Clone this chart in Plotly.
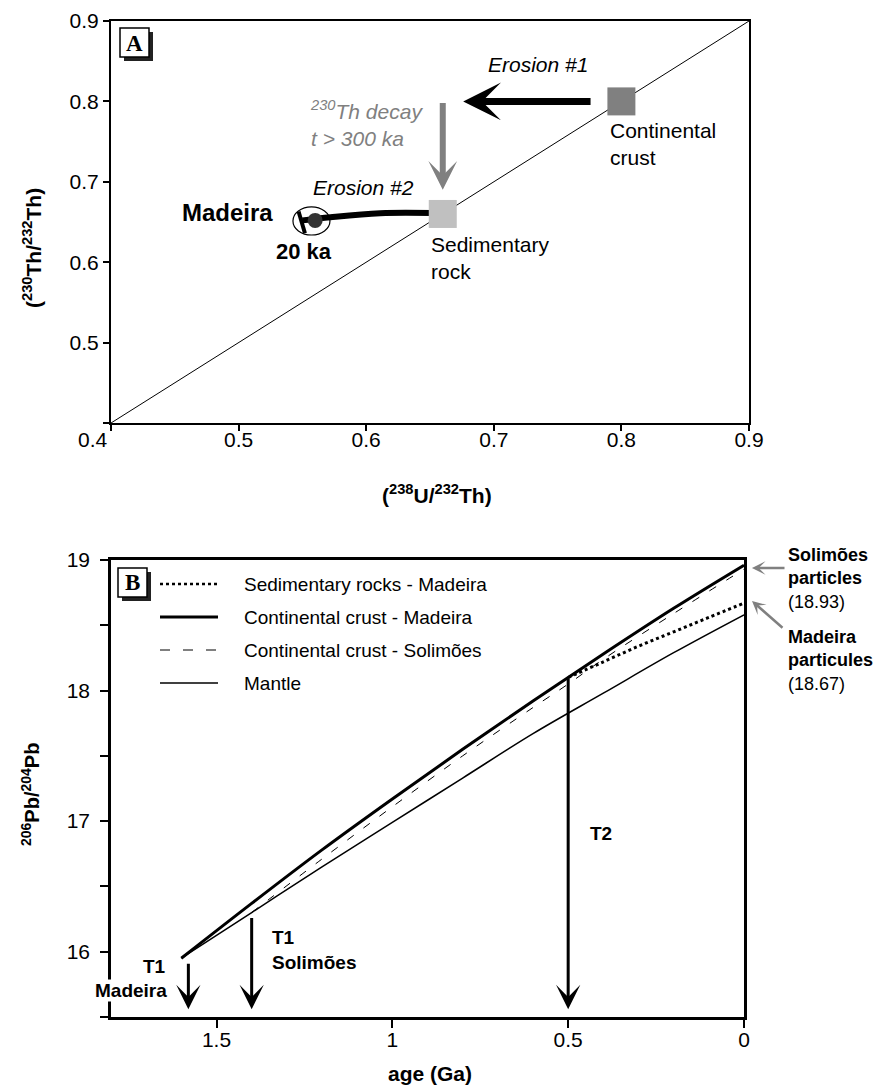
import plotly.graph_objects as go

# ---------------- Panel A: U-series activity ratios ----------------
crust_u_th, crust_th_th = [0.80], [0.80]          # continental crust
sed_u_th, sed_th_th = [0.66], [0.66]              # sedimentary rock
madeira_u_th, madeira_th_th = [0.56], [0.652]     # Madeira sample
equiline = [0.4, 0.9]                             # secular equilibrium line
erosion2_u_th = [0.660, 0.611, 0.572, 0.550]      # erosion #2 trajectory
erosion2_th_th = [0.661, 0.661, 0.656, 0.652]
erosion1_from, erosion1_to = 0.777, 0.676         # erosion #1 arrow (U/Th)
erosion1_level = 0.80
decay_from, decay_to = 0.80, 0.69                 # 230Th decay arrow (Th/Th)
a_ticks = [0.4, 0.5, 0.6, 0.7, 0.8, 0.9]
a_ticktext = ["", "0.5", "0.6", "0.7", "0.8", "0.9"]

# ---------------- Panel B: 206Pb/204Pb evolution ----------------
age_crust_madeira = [1.6, 1.4, 1.2, 1.0, 0.8, 0.6, 0.5, 0.4, 0.2, 0.0]
pb_crust_madeira = [15.95, 16.37, 16.78, 17.17, 17.55, 17.92, 18.10, 18.28, 18.63, 18.96]
age_crust_solimoes = [1.4, 1.2, 1.0, 0.8, 0.6, 0.5, 0.4, 0.2, 0.0]
pb_crust_solimoes = [16.30, 16.71, 17.11, 17.50, 17.87, 18.05, 18.24, 18.59, 18.93]
age_sed_madeira = [0.5, 0.4, 0.3, 0.2, 0.1, 0.0]
pb_sed_madeira = [18.10, 18.22, 18.34, 18.45, 18.56, 18.67]
age_mantle = [1.6, 1.4, 1.2, 1.0, 0.8, 0.6, 0.4, 0.2, 0.0]
pb_mantle = [15.95, 16.30, 16.65, 16.99, 17.33, 17.67, 17.98, 18.29, 18.58]
t1_madeira, t1_madeira_top = 1.58, 15.92
t1_solimoes, t1_solimoes_top = 1.40, 16.27
t2 = 0.5
arrow_base = 15.56
b_xticks = [1.5, 1.0, 0.5, 0.0]
b_xticktext = ["1.5", "1", "0.5", "0"]
b_yticks = [15.5, 16.0, 16.5, 17.0, 17.5, 18.0, 18.5, 19.0]
b_yticktext = ["", "16", "", "17", "", "18", "", "19"]

W, H = 877, 1090
FONT = "Liberation Sans, Arial, sans-serif"
SERIF = "Liberation Serif, Times New Roman, serif"
GRAY = "#808080"


def px(x):
    return x / W


def py(y):
    return 1 - y / H


fig = go.Figure()

# ---- panel A traces ----
fig.add_trace(go.Scatter(x=equiline, y=equiline, mode="lines",
                         line=dict(color="black", width=1), xaxis="x", yaxis="y"))
fig.add_trace(go.Scatter(x=erosion2_u_th, y=erosion2_th_th, mode="lines",
                         line=dict(color="black", width=6, shape="spline"),
                         xaxis="x", yaxis="y"))
fig.add_trace(go.Scatter(x=crust_u_th, y=crust_th_th, mode="markers",
                         marker=dict(symbol="square", size=28, color=GRAY),
                         xaxis="x", yaxis="y"))
fig.add_trace(go.Scatter(x=sed_u_th, y=sed_th_th, mode="markers",
                         marker=dict(symbol="square", size=28, color="#c0c0c0"),
                         xaxis="x", yaxis="y"))
fig.add_trace(go.Scatter(x=madeira_u_th, y=madeira_th_th, mode="markers",
                         marker=dict(symbol="circle", size=15, color="#333333"),
                         xaxis="x", yaxis="y"))
fig.add_trace(go.Scatter(x=[erosion2_u_th[-1] - 0.003, erosion2_u_th[-1] + 0.002],
                         y=[erosion2_th_th[-1] + 0.011, erosion2_th_th[-1] - 0.016],
                         mode="lines", line=dict(color="black", width=4),
                         xaxis="x", yaxis="y"))

# ---- panel B traces ----
fig.add_trace(go.Scatter(x=age_mantle, y=pb_mantle, mode="lines",
                         line=dict(color="black", width=1.5, shape="spline"),
                         xaxis="x2", yaxis="y2"))
fig.add_trace(go.Scatter(x=age_crust_solimoes, y=pb_crust_solimoes, mode="lines",
                         line=dict(color="black", width=1, dash="8px,12px", shape="spline"),
                         xaxis="x2", yaxis="y2"))
fig.add_trace(go.Scatter(x=age_crust_madeira, y=pb_crust_madeira, mode="lines",
                         line=dict(color="black", width=3, shape="spline"),
                         xaxis="x2", yaxis="y2"))
fig.add_trace(go.Scatter(x=age_sed_madeira, y=pb_sed_madeira, mode="lines",
                         line=dict(color="black", width=3, dash="dot", shape="spline"),
                         xaxis="x2", yaxis="y2"))

ann = []
shapes = []

# ---- panel A arrows ----
ann.append(dict(x=erosion1_to, y=erosion1_level, ax=erosion1_from, ay=erosion1_level,
                xref="x", yref="y", axref="x", ayref="y", text="", showarrow=True,
                arrowhead=3, arrowwidth=7, arrowsize=0.9, arrowcolor="black"))
ann.append(dict(x=sed_u_th[0], y=decay_to, ax=sed_u_th[0], ay=decay_from,
                xref="x", yref="y", axref="x", ayref="y", text="", showarrow=True,
                arrowhead=3, arrowwidth=6, arrowsize=0.8, arrowcolor=GRAY))


# ---- panel A texts ----
def text_a(x, y, t, size=21, color="black", xanchor="center", align="center", **kw):
    ann.append(dict(x=x, y=y, xref="x", yref="y", text=t, showarrow=False,
                    font=dict(family=FONT, size=size, color=color),
                    xanchor=xanchor, yanchor="middle", align=align, **kw))


text_a(0.7346, 0.8453, "<i>Erosion #1</i>")
text_a(0.5544, 0.773, "<i><sup>230</sup>Th decay<br>t &gt; 300 ka</i>", color=GRAY,
       xanchor="left", align="left")
text_a(0.5975, 0.6935, "<i>Erosion #2</i>")
text_a(0.7895, 0.7464, "Continental<br>crust", xanchor="left", align="left")
text_a(0.6492, 0.6052, "Sedimentary<br>rock", xanchor="left", align="left")
text_a(0.5285, 0.6612, "<b>Madeira</b>", size=24, xanchor="right")
text_a(0.5513, 0.6127, "<b>20 ka</b>", size=22)

# error ellipse around the Madeira sample
shapes.append(dict(type="circle", xref="x", yref="y", x0=0.5426, x1=0.5716,
                   y0=0.6338, y1=0.6687, line=dict(color="black", width=1.2)))


def text_p(x, y, t, size=19, xanchor="center", align="center", **kw):
    ann.append(dict(x=px(x), y=py(y), xref="paper", yref="paper", text=t,
                    showarrow=False, font=dict(family=FONT, size=size, color="black"),
                    xanchor=xanchor, yanchor="middle", align=align, **kw))


# panel A axis titles and corner label
text_p(437, 494, "<b>(<sup>238</sup>U/<sup>232</sup>Th)</b>", size=21)
text_p(32, 248, "<b>(<sup>230</sup>Th/<sup>232</sup>Th)</b>", size=21, textangle=-90)
text_p(93, 439, "0.4", size=21)

# ---- panel B arrows ----
for xa, top in [(t1_madeira, t1_madeira_top), (t1_solimoes, t1_solimoes_top),
                (t2, pb_crust_madeira[age_crust_madeira.index(t2)])]:
    ann.append(dict(x=xa, y=arrow_base, ax=xa, ay=top, xref="x2", yref="y2",
                    axref="x2", ayref="y2", text="", showarrow=True,
                    arrowhead=3, arrowwidth=3, arrowsize=1.35, arrowcolor="black"))

# gray pointers to present-day particle compositions
ann.append(dict(x=px(752), y=py(568), ax=34, ay=0, xref="paper", yref="paper",
                text="", showarrow=True, arrowhead=3, arrowwidth=2.5,
                arrowsize=0.9, arrowcolor=GRAY))
ann.append(dict(x=px(752), y=py(601), ax=32, ay=28, xref="paper", yref="paper",
                text="", showarrow=True, arrowhead=3, arrowwidth=2.5,
                arrowsize=0.9, arrowcolor=GRAY))

text_p(786, 578, "<b>Solimões<br>particles</b><br>(18.93)", size=18,
       xanchor="left", align="left")
text_p(786, 660, "<b>Madeira<br>particules</b><br>(18.67)", size=18,
       xanchor="left", align="left")
text_p(168, 966, "<b>T1</b>", xanchor="right")
text_p(168, 990, "<b>Madeira</b>", xanchor="right", bgcolor="white", borderpad=0)
text_p(270, 950, "<b>T1<br>Solimões</b>", xanchor="left", align="left")
text_p(601, 833, "<b>T2</b>")

# panel B axis titles
text_p(430, 1073, "<b>age (Ga)</b>", size=21)
text_p(30, 795, "<b><sup>206</sup>Pb/<sup>204</sup>Pb</b>", size=20, textangle=-90)

# ---- panel letters with drop shadow ----
for (bx, by, letter) in [(120, 28, "A"), (118, 568, "B")]:
    shapes.append(dict(type="rect", xref="paper", yref="paper",
                       x0=px(bx + 4), x1=px(bx + 33), y0=py(by + 33), y1=py(by + 4),
                       fillcolor="#222222", line=dict(width=0)))
    shapes.append(dict(type="rect", xref="paper", yref="paper",
                       x0=px(bx), x1=px(bx + 29), y0=py(by + 29), y1=py(by),
                       fillcolor="white", line=dict(color="black", width=1.5)))
    ann.append(dict(x=px(bx + 14.5), y=py(by + 15), xref="paper", yref="paper",
                    xanchor="center", yanchor="middle",
                    text=f"<b>{letter}</b>", showarrow=False,
                    font=dict(family=SERIF, size=23, color="black")))

# ---- panel B legend ----
legend_rows = [
    ("Sedimentary rocks - Madeira", dict(color="black", width=2.5, dash="dot")),
    ("Continental crust - Madeira", dict(color="black", width=3)),
    ("Continental crust - Solimões", dict(color="black", width=1, dash="10px,13px")),
    ("Mantle", dict(color="black", width=1.5)),
]
for i, (label, ls) in enumerate(legend_rows):
    yy = 584 + 33 * i
    shapes.append(dict(type="line", xref="paper", yref="paper",
                       x0=px(160), x1=px(218), y0=py(yy), y1=py(yy), line=ls))
    text_p(242, yy, label, size=19, xanchor="left", align="left")

axis_common = dict(showgrid=False, zeroline=False, showline=True, mirror=True,
                   automargin=False,
                   linecolor="black", ticks="outside", tickcolor="black",
                   tickfont=dict(family=FONT, size=21, color="black"))

fig.update_layout(
    width=W, height=H, margin=dict(l=0, r=0, t=0, b=0, autoexpand=False),
    paper_bgcolor="white", plot_bgcolor="white", showlegend=False,
    xaxis=dict(domain=[px(111), px(749)], range=[0.4, 0.9], anchor="y",
               tickvals=a_ticks, ticktext=a_ticktext, linewidth=2,
               ticklen=6, tickwidth=1.5, ticklabelstandoff=-9, **axis_common),
    yaxis=dict(domain=[py(423), py(21)], range=[0.4, 0.9], anchor="x",
               tickvals=a_ticks, ticktext=a_ticktext, linewidth=2,
               ticklen=6, tickwidth=1.5, **axis_common),
    xaxis2=dict(domain=[px(111), px(744)], range=[1.8, 0.0], anchor="y2",
                tickvals=b_xticks, ticktext=b_xticktext, linewidth=2.5,
                ticklen=8, tickwidth=1.5, ticklabelstandoff=-6, **axis_common),
    yaxis2=dict(domain=[py(1017), py(560)], range=[15.5, 19.0], anchor="x2",
                tickvals=b_yticks, ticktext=b_yticktext, linewidth=2.5,
                ticklen=8, tickwidth=1.5, ticklabelstandoff=6, **axis_common),
    annotations=ann, shapes=shapes,
)

fig.write_html("out.html")
